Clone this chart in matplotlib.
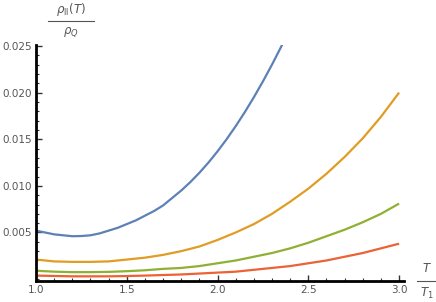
import numpy as np
import matplotlib
matplotlib.use('Agg')
import matplotlib.pyplot as plt
from matplotlib.lines import Line2D
from matplotlib.ticker import MultipleLocator, FormatStrFormatter

# ---- data -----------------------------------------------------------------
t_blue = [1.0, 1.05, 1.1, 1.15, 1.2, 1.25, 1.3, 1.35, 1.4, 1.45, 1.5, 1.55, 1.6,
          1.65, 1.7, 1.75, 1.8, 1.85, 1.9, 1.95, 2.0, 2.05, 2.1, 2.15, 2.2, 2.25,
          2.3, 2.35, 2.4]
rho_blue = [0.0052, 0.0050, 0.0048, 0.0047, 0.0046, 0.00462, 0.0047, 0.0049, 0.0052,
            0.0055, 0.0059, 0.0063, 0.0068, 0.0073, 0.0079, 0.0087, 0.0095, 0.0104,
            0.0114, 0.0125, 0.0137, 0.0150, 0.0164, 0.0179, 0.0195, 0.0212, 0.0230,
            0.0249, 0.0269]

t_all = [1.0, 1.1, 1.2, 1.3, 1.4, 1.5, 1.6, 1.7, 1.8, 1.9, 2.0,
         2.1, 2.2, 2.3, 2.4, 2.5, 2.6, 2.7, 2.8, 2.9, 3.0]
rho_orange = [0.0021, 0.0019, 0.00185, 0.00185, 0.0019, 0.0021, 0.0023, 0.0026, 0.0030,
              0.0035, 0.0042, 0.0050, 0.0059, 0.0070, 0.0083, 0.0097, 0.0113, 0.0131,
              0.0151, 0.0174, 0.0200]
rho_green = [0.0009, 0.0008, 0.00075, 0.00075, 0.00078, 0.00085, 0.00095, 0.0011, 0.0012,
             0.0014, 0.0017, 0.0020, 0.0024, 0.0028, 0.0033, 0.0039, 0.0046, 0.0053,
             0.0061, 0.0070, 0.0081]
rho_red = [0.00038, 0.00034, 0.0003, 0.0003, 0.0003, 0.00033, 0.00038, 0.00044, 0.0005,
           0.0006, 0.0007, 0.0008, 0.0010, 0.0012, 0.0014, 0.0017, 0.0020, 0.0024,
           0.0028, 0.0033, 0.0038]

colors = ['#5E81B5', '#E19C24', '#8FB032', '#EB6235']
GRAY = '#555555'

fig = plt.figure(figsize=(4.36, 3.02), dpi=100)
ax = fig.add_axes([36 / 436, 1 - 281 / 302, (404 - 36) / 436, (281 - 45) / 302])

for t, r, c in zip([t_blue, t_all, t_all, t_all],
                   [rho_blue, rho_orange, rho_green, rho_red], colors):
    ax.plot(t, r, color=c, lw=1.6, solid_capstyle='butt')

ax.set_xlim(1.0, 3.027)
ax.set_ylim(-0.0002, 0.0251)

for s in ('top', 'right'):
    ax.spines[s].set_visible(False)
for s in ('left', 'bottom'):
    ax.spines[s].set_linewidth(2.0)
    ax.spines[s].set_color('black')

ax.xaxis.set_major_locator(MultipleLocator(0.5))
ax.xaxis.set_minor_locator(MultipleLocator(0.1))
ax.yaxis.set_major_locator(MultipleLocator(0.005))
ax.yaxis.set_minor_locator(MultipleLocator(0.001))
ax.xaxis.set_major_formatter(FormatStrFormatter('%.1f'))
ax.yaxis.set_major_formatter(FormatStrFormatter('%.3f'))
ax.set_yticks([0.005, 0.010, 0.015, 0.020, 0.025])
ax.tick_params(which='both', direction='in', color='#333333', labelcolor=GRAY,
               labelsize=7.5)
ax.tick_params(which='major', length=4, width=1.0, pad=3)
ax.tick_params(which='minor', length=2.2, width=0.8)

# axis labels drawn as stacked fractions
def frac(xc, y_num, y_line, y_den, num, den, half):
    fig.text(xc / 436, 1 - y_num / 302, num, ha='center', va='center',
             fontsize=8.5, color=GRAY)
    fig.text(xc / 436, 1 - y_den / 302, den, ha='center', va='center',
             fontsize=8.5, color=GRAY)
    fig.add_artist(Line2D([(xc - half) / 436, (xc + half) / 436],
                          [1 - y_line / 302] * 2, color=GRAY, lw=0.8))

frac(71, 10, 21, 32, r'$\rho_{\mathrm{II}}(T)$', r'$\rho_Q$', 23)
frac(427, 269, 281, 293, r'$T$', r'$T_1$', 10)

fig.savefig('out.png', dpi=100)
